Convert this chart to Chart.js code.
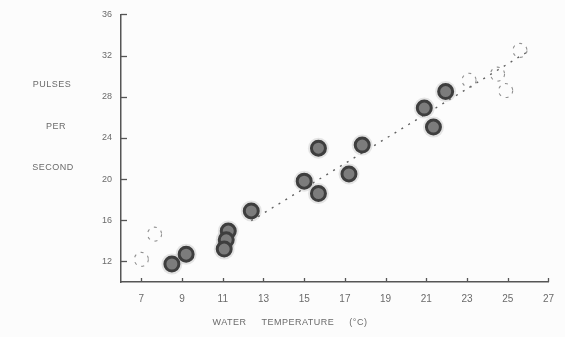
<!DOCTYPE html>
<html>
<head>
<meta charset="utf-8">
<script src="https://cdn.jsdelivr.net/npm/chart.js@4.4.1/dist/chart.umd.min.js"></script>
<style>
  html, body { margin: 0; padding: 0; background: #fcfcfc; }
  #wrap { width: 565px; height: 337px; position: relative; }
</style>
</head>
<body>
<div id="wrap"><canvas id="c" width="565" height="337"></canvas></div>
<script>
// Water temperature (°C) and pulse rate (pulses per second)
const tempC = [8.5, 9.2, 11.27, 11.17, 11.07, 12.4, 15.0, 15.7, 15.7, 17.2, 17.85, 20.9, 21.35, 21.95];
const pulses = [11.75, 12.7, 14.95, 14.1, 13.2, 16.9, 19.8, 18.6, 23.0, 20.5, 23.3, 26.9, 25.05, 28.5];

// Faint open-circle observations
const openTempC = [7.0, 7.65, 23.1, 24.5, 24.9, 25.6];
const openPulses = [12.2, 14.65, 29.6, 30.2, 28.6, 32.5];

// Fitted trend line endpoints
const fitTempC = [12.4, 26.0];
const fitPulses = [15.95, 32.4];

// Axis tick values
const xTicks = [7, 9, 11, 13, 15, 17, 19, 21, 23, 25, 27];
const yTicks = [12, 16, 20, 24, 28, 32, 36];

const yTitleLines = ['PULSES', 'PER', 'SECOND'];
const xTitle = 'WATER     TEMPERATURE     (\u00B0C)';

const toPoints = (xs, ys) => xs.map((x, i) => ({ x: x, y: ys[i] }));

const axisColor = '#555555';
const textColor = '#6a6a6a';

const decorations = {
  id: 'decorations',
  beforeDatasetDraw(chart, args) {
    if (args.index === 3) {
      chart.ctx.save();
      chart.ctx.setLineDash([3, 5]);
    }
  },
  afterDatasetDraw(chart, args) {
    if (args.index === 3) chart.ctx.restore();
  },
  afterDraw(chart) {
    const ctx = chart.ctx;
    const xs = chart.scales.x, ys = chart.scales.y;
    const area = chart.chartArea;
    ctx.save();
    ctx.strokeStyle = axisColor;
    ctx.lineWidth = 1.3;
    // inward tick marks
    xTicks.forEach(v => {
      const px = Math.round(xs.getPixelForValue(v)) + 0.5;
      ctx.beginPath();
      ctx.moveTo(px, area.bottom);
      ctx.lineTo(px, area.bottom - 4);
      ctx.stroke();
    });
    yTicks.forEach(v => {
      const py = Math.round(ys.getPixelForValue(v)) + 0.5;
      ctx.beginPath();
      ctx.moveTo(area.left, py);
      ctx.lineTo(area.left + 6, py);
      ctx.stroke();
    });
    // axis titles
    ctx.fillStyle = textColor;
    ctx.font = '9px "Liberation Sans", Arial, sans-serif';
    ctx.textAlign = 'center';
    ctx.textBaseline = 'middle';
    const titleY = [85, 127, 168];
    const titleX = [52, 56, 53];
    if ('letterSpacing' in ctx) ctx.letterSpacing = '0.5px';
    yTitleLines.forEach((t, i) => {
      ctx.fillText(t, titleX[i], titleY[i]);
    });
    ctx.fillText(xTitle, 290, 323);
    ctx.restore();
  }
};

new Chart(document.getElementById('c'), {
  type: 'scatter',
  data: {
    datasets: [
      {
        // trend line
        type: 'line',
        data: toPoints(fitTempC, fitPulses),
        borderColor: '#606060',
        borderWidth: 1.4,
        borderDash: [2, 6],
        pointRadius: 0,
        fill: false,
        order: 4
      },
      {
        // soft halo around observations
        data: toPoints(tempC, pulses),
        pointRadius: 10.5,
        backgroundColor: 'rgba(120,120,120,0.18)',
        borderWidth: 0,
        order: 3
      },
      {
        data: toPoints(tempC, pulses),
        pointRadius: 7,
        backgroundColor: '#7c7c7c',
        borderColor: '#3e3e3e',
        borderWidth: 3,
        order: 1
      },
      {
        data: toPoints(openTempC, openPulses),
        pointRadius: 7,
        backgroundColor: 'rgba(0,0,0,0)',
        borderColor: '#909090',
        borderWidth: 1.1,
        order: 2
      }
    ]
  },
  options: {
    responsive: false,
    animation: false,
    events: [],
    layout: { padding: { top: 14, right: 13, left: 0, bottom: 0 } },
    plugins: { legend: { display: false }, tooltip: { enabled: false } },
    scales: {
      x: {
        type: 'linear',
        min: 6,
        max: 27,
        afterBuildTicks: s => { s.ticks = xTicks.map(v => ({ value: v })); },
        afterFit: s => { s.height = 55; },
        grid: { display: false, drawTicks: false },
        border: { display: true, color: axisColor, width: 1.5 },
        ticks: {
          padding: 11,
          color: textColor,
          font: { family: '"Liberation Sans", Arial, sans-serif', size: 10 },
          maxRotation: 0,
          autoSkip: false
        }
      },
      y: {
        type: 'linear',
        min: 10,
        max: 36,
        afterBuildTicks: s => { s.ticks = yTicks.map(v => ({ value: v })); },
        afterFit: s => { s.width = 121; },
        grid: { display: false, drawTicks: false },
        border: { display: true, color: axisColor, width: 1.5 },
        ticks: {
          padding: 9,
          color: textColor,
          font: { family: '"Liberation Sans", Arial, sans-serif', size: 9 },
          autoSkip: false
        }
      }
    }
  },
  plugins: [decorations]
});
</script>
</body>
</html>
